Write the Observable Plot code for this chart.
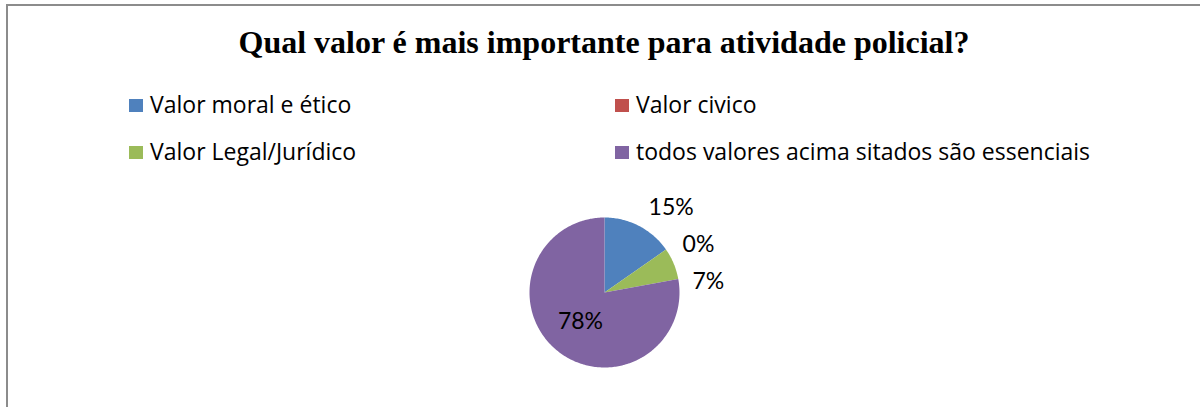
<!DOCTYPE html>
<html>
<head>
<meta charset="utf-8">
<script src="https://cdn.jsdelivr.net/npm/d3@7"></script>
<script src="https://cdn.jsdelivr.net/npm/@observablehq/plot@0.6"></script>
<style>
  html, body { margin: 0; padding: 0; background: #fff; width: 1200px; height: 407px; overflow: hidden; }
  #frame { position: absolute; left: 6px; top: 4px; width: 1300px; height: 500px;
           border-top: 2px solid #8c8c8c; border-left: 2px solid #8c8c8c; }
  #title { position: absolute; left: 0; width: 1208px; top: 25px; text-align: center;
           font-family: "Liberation Serif", "Times New Roman", serif; font-weight: bold;
           font-size: 32px; line-height: 34px; color: #000; white-space: nowrap; }
  .leg { position: absolute; font-family: "Open Sans", sans-serif; font-size: 23px; line-height: 27px;
         color: #000; white-space: nowrap; }
  .sw { position: absolute; width: 14px; height: 13px; }
  #chart { position: absolute; left: 0; top: 185px; }
</style>
</head>
<body>
<div id="frame"></div>
<div id="title"></div>
<div id="legend"></div>
<div id="chart"></div>
<script>
// ---- data ----
const titleText = "Qual valor é mais importante para atividade policial?";
const categories = ["Valor moral e ético", "Valor civico", "Valor Legal/Jurídico", "todos valores acima sitados são essenciais"];
const values = [15.3, 0, 6.8, 77.9];
const valueLabels = ["15%", "0%", "7%", "78%"];
const colors = ["#4F81BD", "#C0504D", "#9BBB59", "#8064A2"];

// ---- title ----
document.getElementById("title").textContent = titleText;

// ---- legend (2 columns x 2 rows) ----
const legend = document.getElementById("legend");
const colX = [129, 615], rowTop = [91, 138];
categories.forEach((c, i) => {
  const col = i % 2, row = Math.floor(i / 2);
  const sw = document.createElement("div");
  sw.className = "sw";
  sw.style.left = colX[col] + "px";
  sw.style.top = (rowTop[row] + 8) + "px";
  sw.style.background = colors[i];
  legend.appendChild(sw);
  const t = document.createElement("div");
  t.className = "leg";
  t.style.left = (colX[col] + 21) + "px";
  t.style.top = rowTop[row] + "px";
  t.textContent = c;
  legend.appendChild(t);
});

// ---- pie geometry ----
const W = 1200, H = 222, R = 75, cx = 604, cy = 107; // pixel layout of the pie
const total = d3.sum(values);
let acc = 0;
const slices = values.map((v, i) => {
  const a0 = acc / total * 2 * Math.PI; acc += v;
  const a1 = acc / total * 2 * Math.PI;
  return {name: categories[i], value: v, a0, a1, mid: (a0 + a1) / 2, label: valueLabels[i]};
});
const pts = [];
for (const s of slices) {
  if (s.value <= 0) continue;
  const n = Math.max(2, Math.ceil((s.a1 - s.a0) / (Math.PI / 180)));
  pts.push({name: s.name, x: 0, y: 0});
  for (let k = 0; k <= n; k++) {
    const a = s.a0 + (s.a1 - s.a0) * k / n;
    pts.push({name: s.name, x: Math.sin(a), y: Math.cos(a)});
  }
  pts.push({name: s.name, x: 0, y: 0});
}
// labels
const inside = [], outside = [];
for (const s of slices) {
  if (s.value / total > 0.3) {
    inside.push({x: 0.5 * Math.sin(s.mid), y: 0.5 * Math.cos(s.mid), text: s.label});
  } else {
    const r = 1.27;
    outside.push({x: r * Math.sin(s.mid), y: r * Math.cos(s.mid), text: s.label});
  }
}
// push overlapping outside labels downward
const gap = 37 / R;
for (let k = 1; k < outside.length; k++) {
  if (outside[k].y > outside[k - 1].y - gap) outside[k].y = outside[k - 1].y - gap;
}

const chart = Plot.plot({
  width: W, height: H, margin: 0,
  style: {background: "transparent", fontFamily: "Lato, sans-serif"},
  x: {domain: [-cx / R, (W - cx) / R], axis: null},
  y: {domain: [-(H - cy) / R, cy / R], axis: null},
  color: {domain: categories, range: colors},
  marks: [
    Plot.line(pts, {x: "x", y: "y", z: "name", fill: "name", stroke: "none", curve: "linear"}),
    Plot.text(outside, {x: "x", y: "y", text: "text", textAnchor: "start", fontSize: 23, fill: "#000"}),
    Plot.text(inside, {x: "x", y: "y", text: "text", textAnchor: "middle", fontSize: 23, fill: "#000"})
  ]
});
document.getElementById("chart").appendChild(chart);
</script>
</body>
</html>
